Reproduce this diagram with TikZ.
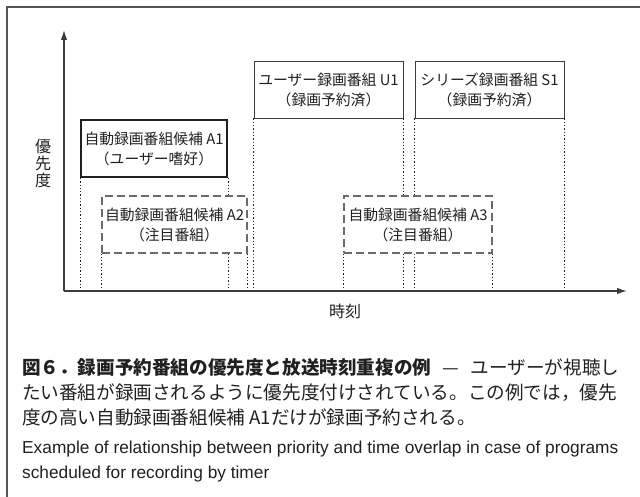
\documentclass[tikz,border=0pt]{standalone}
\usepackage{fontspec}
\setmainfont{Liberation Sans}
\newfontfamily\jp{Noto Sans CJK JP}
\usetikzlibrary{arrows.meta,backgrounds}
\definecolor{ink}{HTML}{231F20}
\definecolor{linec}{HTML}{3C3C3C}
\definecolor{dashc}{HTML}{6A6A6A}
\definecolor{framec}{HTML}{555555}
\tikzset{
  prog/.style={draw=linec, line width=0.9pt, fill=white, minimum height=57pt,
    inner sep=0pt, align=center, text=ink,
    font=\jp\fontsize{14.8}{20}\selectfont},
  progbold/.style={prog, line width=2pt, draw=ink},
  progdash/.style={prog, draw=dashc, line width=1.1pt, dash pattern=on 8pt off 4pt},
  guide/.style={draw=ink, line width=0.7pt, dash pattern=on 1.3pt off 2pt},
  axis/.style={draw=linec, line width=1.3pt, -{Latex[length=10pt,width=6.5pt]}},
  axlabel/.style={text=ink, font=\jp\fontsize{16}{17}\selectfont, align=center, inner sep=0pt},
  capjp/.style={anchor=base west, inner sep=0pt, text=ink, font=\jp\fontsize{18.6}{24}\selectfont},
  capen/.style={anchor=base west, inner sep=0pt, text=ink, font=\fontsize{17.3}{24}\selectfont}
}
\begin{document}
\begin{tikzpicture}[x=1pt,y=-1pt]
\useasboundingbox (0,0) rectangle (640,497);
% frame
\draw[framec, line width=1.3pt] (7,497) -- (7,7) -- (640,7);
% axes
\coordinate (O) at (64,291);
\coordinate (Xend) at (627,291);
\coordinate (Yend) at (64,30);
\draw[axis] (O) -- (Xend);
\draw[axis] (O) -- (Yend);
\node[axlabel] (ylab) at (43,163) {優\\先\\度};
\node[axlabel] (xlab) at (345,311) {時刻};
% boxes
\node[progbold, minimum width=146pt] (A1) at (154,148.5) {自動録画番組候補 A1\\（ユーザー嗜好）};
\node[prog, minimum width=149pt] (U1) at (328.5,89.5) {ユーザー録画番組 U1\\（録画予約済）};
\node[prog, minimum width=149pt] (S1) at (489.5,89.5) {シリーズ録画番組 S1\\（録画予約済）};
\node[progdash, minimum width=145pt] (A2) at (174.5,224.5) {自動録画番組候補 A2\\（注目番組）};
\node[progdash, minimum width=148pt] (A3) at (418,224.5) {自動録画番組候補 A3\\（注目番組）};
% guides
\begin{scope}[on background layer]
\foreach \b in {A1,U1,S1,A2,A3}{
  \draw[guide] (\b.south west) -- (\b.south west |- O);
  \draw[guide] (\b.south east) -- (\b.south east |- O);
}
\end{scope}
% caption
\node[capjp] (c1) at (22,374) {\makebox[597pt][s]{{\bfseries 図６．録画予約番組の優先度と放送時刻重複の例} — ユーザーが視聴し}};
\node[capjp] (c2) at (22,399) {たい番組が録画されるように優先度付けされている。この例では，優先};
\node[capjp] (c3) at (22,424) {度の高い自動録画番組候補 A1だけが録画予約される。};
\node[capen] (e1) at (22,453) {Example of relationship between priority and time overlap in case of programs};
\node[capen] (e2) at (22,478) {scheduled for recording by timer};
\end{tikzpicture}
\end{document}
